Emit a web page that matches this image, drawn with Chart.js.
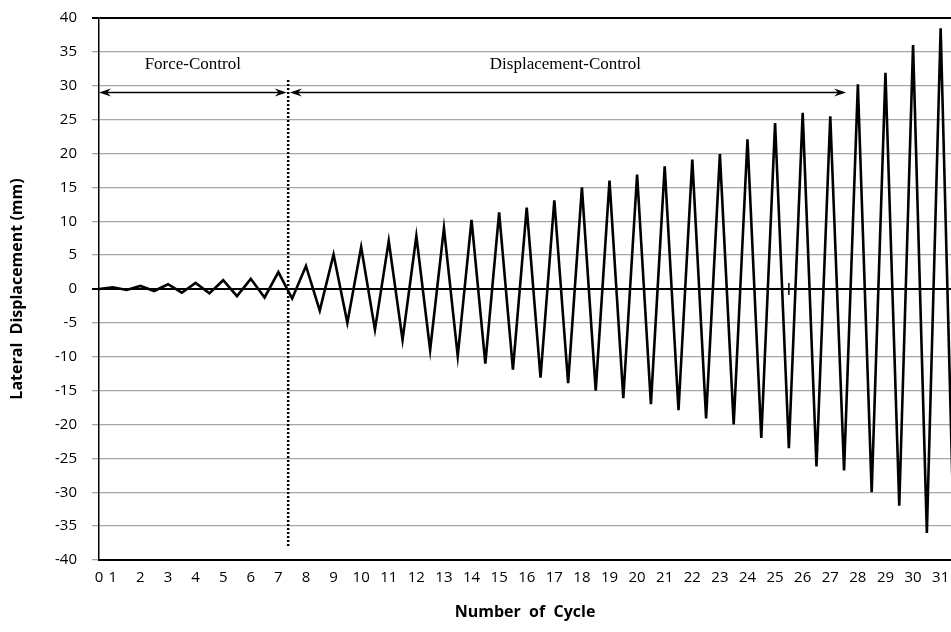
<!DOCTYPE html>
<html>
<head>
<meta charset="utf-8">
<title>Lateral displacement history</title>
<script src="https://cdn.jsdelivr.net/npm/chart.js@4.4.1/dist/chart.umd.min.js"></script>
<style>
  html, body { margin: 0; padding: 0; background: #fff; overflow: hidden; }
  #wrap { width: 951px; height: 632px; }
</style>
</head>
<body>
<div id="wrap"><canvas id="chart" width="951" height="632"></canvas></div>
<script>
// DATA - one value per half cycle (each peak)
const displacement = [0, 0.25, -0.15, 0.45, -0.3, 0.7, -0.55, 0.9, -0.65, 1.3, -1.05, 1.5, -1.25, 2.5, -1.4,
  3.4, -3.2, 5.1, -5.0, 6.2, -6.0, 7.1, -7.5, 7.8, -9.0, 9.0, -9.9, 10.2, -11.0, 11.3, -11.9, 12.0, -13.1,
  13.1, -13.9, 15.0, -15.0, 16.0, -16.1, 16.9, -17.0, 18.1, -17.9, 19.1, -19.1, 19.9, -20.0, 22.1, -22.0,
  24.5, -23.5, 26.0, -26.2, 25.5, -26.8, 30.2, -30.0, 31.9, -32.0, 36.0, -36.0, 38.5, -40.0];

// where the cycle numbers sit on the half-cycle axis
const cycle_tick_pos = [0, 1, 3, 5, 7, 9, 11, 13, 15, 17, 19, 21, 23, 25, 27, 29, 31, 33, 35, 37, 39, 41,
  43, 45, 47, 49, 51, 53, 55, 57, 59, 61];
const cycle_tick_labels = ["0", "1", "2", "3", "4", "5", "6", "7", "8", "9", "10", "11", "12", "13", "14",
  "15", "16", "17", "18", "19", "20", "21", "22", "23", "24", "25", "26", "27", "28", "29", "30", "31"];

// loading phases (in half-cycle units)
const phase_labels = ["Force-Control", "Displacement-Control"];
const phase_from = [0, 13.83];
const phase_to = [13.61, 54.15];
const phase_text_x = [6.8, 33.8];
const switch_at = 13.71;

const x_max = 61.75;

// ANNOTATIONS (arrows, dotted switch line, text)
function arrow_head(ctx, tip_x, y, dir) {
  ctx.beginPath();
  ctx.moveTo(tip_x, y);
  ctx.lineTo(tip_x - dir * 12, y - 4);
  ctx.lineTo(tip_x - dir * 8, y);
  ctx.lineTo(tip_x - dir * 12, y + 4);
  ctx.closePath();
  ctx.fill();
}

const phase_notes = {
  id: "phase_notes",
  afterDatasetsDraw(chart) {
    const ctx = chart.ctx;
    const xs = chart.scales.x, ys = chart.scales.y;
    ctx.save();
    ctx.strokeStyle = "#000";
    ctx.fillStyle = "#000";

    // dotted line where control mode switches
    ctx.lineWidth = 2.5;
    ctx.setLineDash([2, 2]);
    ctx.beginPath();
    ctx.moveTo(xs.getPixelForValue(switch_at), ys.getPixelForValue(30.85));
    ctx.lineTo(xs.getPixelForValue(switch_at), ys.getPixelForValue(-38.2));
    ctx.stroke();
    ctx.setLineDash([]);

    const arrow_y = ys.getPixelForValue(29.0);
    const text_y = ys.getPixelForValue(33.1);
    ctx.font = "17px 'Liberation Serif', serif";
    ctx.textAlign = "center";
    ctx.textBaseline = "middle";
    for (let i = 0; i < phase_labels.length; i++) {
      const x1 = xs.getPixelForValue(phase_from[i]);
      const x2 = xs.getPixelForValue(phase_to[i]);
      ctx.lineWidth = 1.5;
      ctx.beginPath();
      ctx.moveTo(x1 + 6, arrow_y);
      ctx.lineTo(x2 - 6, arrow_y);
      ctx.stroke();
      arrow_head(ctx, x1, arrow_y, -1);
      arrow_head(ctx, x2, arrow_y, 1);
      ctx.fillText(phase_labels[i], xs.getPixelForValue(phase_text_x[i]), text_y);
    }

    // small stray mark on the zero line
    ctx.lineWidth = 1.5;
    ctx.beginPath();
    ctx.moveTo(xs.getPixelForValue(50.0), ys.getPixelForValue(0.9));
    ctx.lineTo(xs.getPixelForValue(50.0), ys.getPixelForValue(-0.9));
    ctx.stroke();
    ctx.restore();
  }
};

Chart.defaults.font.family = "'Open Sans', sans-serif";
Chart.defaults.color = "#000";

function dark_line(c) {
  return c.tick && (c.tick.value === 0 || c.tick.value === 40);
}

new Chart(document.getElementById("chart"), {
  type: "line",
  data: {
    datasets: [{
      label: "Lateral displacement",
      data: displacement.map((v, i) => ({ x: i, y: v })),
      borderColor: "#000",
      backgroundColor: "#000",
      borderWidth: 2.6,
      pointRadius: 0,
      tension: 0,
      fill: false
    }]
  },
  options: {
    responsive: false,
    animation: false,
    events: [],
    layout: { padding: { top: 18, right: 0, left: 0, bottom: 0 } },
    plugins: { legend: { display: false }, tooltip: { enabled: false } },
    scales: {
      x: {
        type: "linear",
        min: 0,
        max: x_max,
        afterBuildTicks: (scale) => {
          scale.ticks = cycle_tick_pos.map((v) => ({ value: v }));
        },
        afterFit: (scale) => {
          scale.height = 72;
          scale.paddingLeft = 0;
          scale.paddingRight = 0;
        },
        grid: { display: false, drawTicks: false },
        border: { display: true, color: "#000", width: 2 },
        ticks: {
          autoSkip: false,
          maxRotation: 0,
          padding: 9,
          font: { size: 15 },
          callback: (value, index) => cycle_tick_labels[index]
        },
        title: {
          display: true,
          text: "Number  of  Cycle",
          font: { size: 16, weight: "bold" },
          padding: { top: 0, bottom: 10 }
        }
      },
      y: {
        min: -40,
        max: 40,
        afterFit: (scale) => {
          scale.width = 99;
          scale.paddingTop = 0;
          scale.paddingBottom = 0;
        },
        ticks: { stepSize: 5, padding: 15, font: { size: 15 } },
        grid: {
          color: (c) => dark_line(c) ? "#000" : "#a6a6a6",
          lineWidth: (c) => dark_line(c) ? 2 : 1.3,
          tickLength: 7
        },
        border: { display: true, color: "#000", width: 1.5 },
        title: {
          display: true,
          text: "Lateral  Displacement (mm)",
          font: { size: 16, weight: "bold" },
          padding: { top: 8, bottom: 0 }
        }
      }
    }
  },
  plugins: [phase_notes]
});
</script>
</body>
</html>
